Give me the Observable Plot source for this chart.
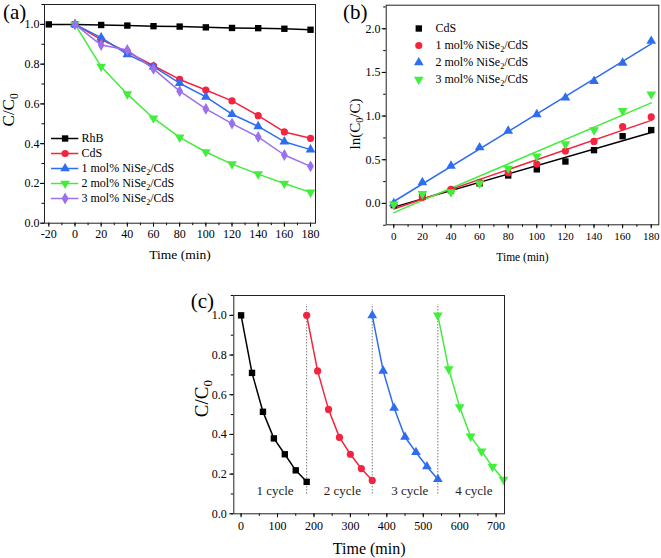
<!DOCTYPE html>
<html><head><meta charset="utf-8">
<script src="https://cdn.jsdelivr.net/npm/d3@7"></script>
<script src="https://cdn.jsdelivr.net/npm/@observablehq/plot@0.6"></script>
<style>
body{margin:0;background:#fff;}
#root{position:relative;width:661px;height:558px;overflow:hidden;font-family:"Liberation Serif","Times New Roman",serif;color:#000;}
.plabel{position:absolute;font-size:21px;line-height:normal;}
</style></head><body><div id="root"></div>
<script>
// ---------- data ----------
// (a) photodegradation C/C0
const timeRhB = [-20, 0, 20, 40, 60, 80, 100, 120, 140, 160, 180];
const rhbA   = [1.0, 1.0, 0.997, 0.994, 0.991, 0.989, 0.985, 0.982, 0.981, 0.978, 0.973];
const timeA  = [0, 20, 40, 60, 80, 100, 120, 140, 160, 180];
const cdsA   = [1.0, 0.923, 0.862, 0.792, 0.723, 0.670, 0.615, 0.541, 0.459, 0.427];
const mol1A  = [1.0, 0.933, 0.849, 0.787, 0.704, 0.635, 0.548, 0.487, 0.410, 0.370];
const mol2A  = [1.0, 0.788, 0.649, 0.528, 0.432, 0.358, 0.297, 0.247, 0.200, 0.155];
const mol3A  = [1.0, 0.896, 0.871, 0.776, 0.664, 0.575, 0.501, 0.434, 0.343, 0.286];
const labelsA = ["RhB", "CdS", "1 mol% NiSe₂/CdS", "2 mol% NiSe₂/CdS", "3 mol% NiSe₂/CdS"];

// (b) kinetics ln(C0/C)
const timeB  = [0, 20, 40, 60, 80, 100, 120, 140, 160, 180];
const cdsB   = [-0.02, 0.08, 0.15, 0.23, 0.32, 0.39, 0.48, 0.61, 0.77, 0.84];
const mol1B  = [-0.01, 0.07, 0.16, 0.24, 0.35, 0.45, 0.60, 0.71, 0.88, 0.99];
const mol2B  = [0.00, 0.24, 0.43, 0.64, 0.83, 1.02, 1.21, 1.40, 1.61, 1.86];
const mol3B  = [-0.01, 0.11, 0.13, 0.23, 0.40, 0.54, 0.68, 0.84, 1.06, 1.25];
const labelsB = ["CdS", "1 mol% NiSe₂/CdS", "2 mol% NiSe₂/CdS", "3 mol% NiSe₂/CdS"];

// (c) cycling
const timeC1 = [0, 30, 60, 90, 120, 150, 180];
const timeC2 = [180, 210, 240, 270, 300, 330, 360];
const timeC3 = [360, 390, 420, 450, 480, 510, 540];
const timeC4 = [540, 570, 600, 630, 660, 690, 720];
const cyc1 = [1.0, 0.71, 0.514, 0.38, 0.30, 0.219, 0.161];
const cyc2 = [1.0, 0.72, 0.526, 0.385, 0.30, 0.228, 0.168];
const cyc3 = [1.0, 0.72, 0.533, 0.387, 0.31, 0.238, 0.174];
const cyc4 = [1.0, 0.729, 0.538, 0.39, 0.315, 0.238, 0.172];
const cycleSeparators = [180, 360, 540];
const cycleLabels = ["1 cycle", "2 cycle", "3 cycle", "4 cycle"];
const cycleLabelX = [93, 278, 463, 639];
const cycleLabelY = [0.114, 0.114, 0.114, 0.114];

// tick labels
const ticksAx = [-20, 0, 20, 40, 60, 80, 100, 120, 140, 160, 180];
const ticksAy = [0, 0.2, 0.4, 0.6, 0.8, 1.0];
const ticksBx = [0, 20, 40, 60, 80, 100, 120, 140, 160, 180];
const ticksBy = [0, 0.5, 1.0, 1.5, 2.0];
const ticksCx = [0, 100, 200, 300, 400, 500, 600, 700];
const ticksCy = [0, 0.2, 0.4, 0.6, 0.8, 1.0];

// ---------- style ----------
const FONT = '"Liberation Serif","Times New Roman",serif';
const C = {black: "#000000", red: "#f2243f", blue: "#2e6cf0", green: "#42ee3c", purple: "#9a70ec"};
const triangleDown = {
  draw(ctx, size) {
    const s3 = Math.sqrt(3);
    const y = -Math.sqrt(size / (s3 * 3));
    ctx.moveTo(0, -2 * y);
    ctx.lineTo(-s3 * y, y);
    ctx.lineTo(s3 * y, y);
    ctx.closePath();
  }
};
const baseStyle = {fontFamily: FONT, fontSize: "12px", background: "transparent", color: "#000", overflow: "visible"};
const root = document.getElementById("root");
const SUB = {"₀": "0", "₂": "2"};
function subscripts(svg) {
  svg.querySelectorAll("text").forEach(t => {
    if (!/[₀₂]/.test(t.textContent)) return;
    const spans = [...t.querySelectorAll("tspan")];
    const targets = spans.length ? spans : [t];
    targets.forEach(el => {
      const s = el.textContent;
      if (!/[₀₂]/.test(s)) return;
      const fs = parseFloat(getComputedStyle(el).fontSize) || 12;
      el.textContent = "";
      s.split(/([₀₂])/).forEach(part => {
        if (!part) return;
        const ts = document.createElementNS("http://www.w3.org/2000/svg", "tspan");
        if (SUB[part]) {
          ts.textContent = SUB[part];
          ts.setAttribute("font-size", (fs * 0.68).toFixed(2));
          ts.setAttribute("baseline-shift", (-fs * 0.22).toFixed(2));
        } else ts.textContent = part;
        el.appendChild(ts);
      });
    });
  });
}
function place(el, left, top) {
  el.style.position = "absolute";
  el.style.left = left + "px";
  el.style.top = top + "px";
  root.appendChild(el);
  subscripts(el);
}
function rows(t, v, name) { return t.map((x, i) => ({t: x, v: v[i], name})); }
function minor(lo, hi, step) { const a = []; for (let k = Math.round(lo / step); k * step <= hi + 1e-9; k++) a.push(+(k * step).toFixed(6)); return a; }
const intFmt = d => String(d);
const f1 = d3.format(".1f");

// ---------- (a) ----------
const seriesA = [
  {t: timeRhB, v: rhbA, color: C.black, symbol: "square"},
  {t: timeA, v: cdsA, color: C.red, symbol: "circle"},
  {t: timeA, v: mol1A, color: C.blue, symbol: "triangle"},
  {t: timeA, v: mol2A, color: C.green, symbol: triangleDown},
  {t: timeA, v: mol3A, color: C.purple, symbol: "diamond"}
];
const plotA = Plot.plot({
  width: 330, height: 270,
  marginLeft: 44, marginRight: 15, marginTop: 4, marginBottom: 47.3,
  x: {domain: [-23.3, 183.8]},
  y: {domain: [0, 1.1]},
  style: baseStyle,
  marks: [
    ...seriesA.flatMap((s, i) => {
      const d = rows(s.t, s.v, labelsA[i]);
      return [
        Plot.line(d, {x: "t", y: "v", stroke: s.color, strokeWidth: 1.5}),
        Plot.dot(d, {x: "t", y: "v", fill: s.color, symbol: s.symbol, r: 3.6})
      ];
    }),
    Plot.axisX(ticksAx, {tickSize: 4, tickPadding: 2, tickFormat: intFmt, fontSize: 12, label: null}),
    Plot.axisX(minor(-20, 180, 10), {tickSize: 2.5, tickFormat: () => "", label: null}),
    Plot.axisY(ticksAy, {tickSize: 4, tickPadding: 1, tickFormat: f1, fontSize: 12, label: null}),
    Plot.axisY(minor(0, 1.1, 0.1), {tickSize: 2.5, tickFormat: () => "", label: null}),
    Plot.frame({stroke: "#222", strokeWidth: 1}),
    Plot.text(["Time (min)"], {frameAnchor: "bottom", dy: 31.3, lineAnchor: "middle", textAnchor: "middle", fontSize: 13.5}),
    Plot.text(["C/C₀"], {frameAnchor: "left", dx: -35.7, dy: -4, rotate: -90, lineAnchor: "middle", textAnchor: "middle", fontSize: 17})
  ]
});
place(plotA, 0, 0);

const legA = Plot.plot({
  width: 200, height: 80, margin: 0,
  x: {domain: [0, 200], range: [0, 200], axis: null},
  y: {type: "point", domain: labelsA, range: [8.7, 71.3], padding: 0, axis: null},
  style: baseStyle,
  marks: seriesA.flatMap((s, i) => [
    Plot.ruleY([labelsA[i]], {y: d => d, x1: 6, x2: 33.3, stroke: s.color, strokeWidth: 1.5}),
    Plot.dot([labelsA[i]], {x: 19.6, y: d => d, fill: s.color, symbol: s.symbol, r: 3.6}),
    Plot.text([labelsA[i]], {x: 36, y: d => d, text: d => d, textAnchor: "start", fontSize: 12})
  ])
});
place(legA, 45, 128);

// ---------- (b) ----------
const seriesB = [
  {v: cdsB, color: C.black, symbol: "square"},
  {v: mol1B, color: C.red, symbol: "circle"},
  {v: mol2B, color: C.blue, symbol: "triangle"},
  {v: mol3B, color: C.green, symbol: triangleDown}
];
const plotB = Plot.plot({
  width: 331, height: 270,
  marginLeft: 55.7, marginRight: 2.7, marginTop: 4.7, marginBottom: 45.7,
  x: {domain: [-5.3, 185.3]},
  y: {domain: [-0.245, 2.27]},
  style: baseStyle,
  marks: [
    ...seriesB.map((s, i) => Plot.linearRegressionY(rows(timeB, s.v, labelsB[i]), {x: "t", y: "v", stroke: s.color, strokeWidth: 1.5, ci: 0})),
    ...seriesB.map((s, i) => Plot.dot(rows(timeB, s.v, labelsB[i]), {x: "t", y: "v", fill: s.color, symbol: s.symbol, r: 3.6})),
    Plot.axisX(ticksBx, {tickSize: 4, tickPadding: 3.5, tickFormat: intFmt, fontSize: 11, label: null}),
    Plot.axisX(minor(0, 185, 10), {tickSize: 2.5, tickFormat: () => "", label: null}),
    Plot.axisY(ticksBy, {tickSize: 4, tickPadding: 1.7, tickFormat: f1, fontSize: 12, label: null}),
    Plot.axisY(minor(-0.25, 2.25, 0.25), {tickSize: 2.5, tickFormat: () => "", label: null}),
    Plot.frame({stroke: "#222", strokeWidth: 1}),
    Plot.text(["Time (min)"], {frameAnchor: "bottom", dy: 32.7, lineAnchor: "middle", textAnchor: "middle", fontSize: 11.5}),
    Plot.text(["ln(C₀/C)"], {frameAnchor: "left", dx: -30.7, dy: 9, rotate: -90, lineAnchor: "middle", textAnchor: "middle", fontSize: 15})
  ]
});
place(plotB, 330, 0);

const legB = Plot.plot({
  width: 200, height: 80, margin: 0,
  x: {domain: [0, 200], range: [0, 200], axis: null},
  y: {type: "point", domain: labelsB, range: [12, 65.5], padding: 0, axis: null},
  style: baseStyle,
  marks: seriesB.flatMap((s, i) => [
    Plot.dot([labelsB[i]], {x: 13.3, y: d => d, fill: s.color, symbol: s.symbol, r: 3.6}),
    Plot.text([labelsB[i]], {x: 30, y: d => d, text: d => d, textAnchor: "start", fontSize: 12})
  ])
});
place(legB, 405, 15);

// ---------- (c) ----------
const seriesC = [
  {t: timeC1, v: cyc1, color: C.black, symbol: "square"},
  {t: timeC2, v: cyc2, color: C.red, symbol: "circle"},
  {t: timeC3, v: cyc3, color: C.blue, symbol: "triangle"},
  {t: timeC4, v: cyc4, color: C.green, symbol: triangleDown}
];
const plotC = Plot.plot({
  width: 340, height: 278,
  marginLeft: 63.3, marginRight: 6, marginTop: 15, marginBottom: 44.7,
  x: {domain: [-20, 723]},
  y: {domain: [0, 1.1]},
  style: baseStyle,
  marks: [
    Plot.ruleX(cycleSeparators, {y1: 0.1, y2: 1.055, stroke: "#777", strokeDasharray: "1.5,1.5", strokeWidth: 1}),
    ...seriesC.flatMap((s, i) => {
      const d = rows(s.t, s.v, cycleLabels[i]);
      return [
        Plot.line(d, {x: "t", y: "v", stroke: s.color, strokeWidth: 1.5}),
        Plot.dot(d, {x: "t", y: "v", fill: s.color, symbol: s.symbol, r: 3.6})
      ];
    }),
    Plot.text(cycleLabels, {x: (d, i) => cycleLabelX[i], y: (d, i) => cycleLabelY[i], text: d => d, fontSize: 13, fill: "#222"}),
    Plot.axisX(ticksCx, {tickSize: 4, tickPadding: 3.4, tickFormat: intFmt, fontSize: 12, label: null}),
    Plot.axisX(minor(0, 720, 50), {tickSize: 2.5, tickFormat: () => "", label: null}),
    Plot.axisY(ticksCy, {tickSize: 4, tickPadding: 3, tickFormat: f1, fontSize: 12, label: null}),
    Plot.axisY(minor(0, 1.1, 0.1), {tickSize: 2.5, tickFormat: () => "", label: null}),
    Plot.frame({stroke: "#222", strokeWidth: 1}),
    Plot.text(["Time (min)"], {frameAnchor: "bottom", dy: 34.7, lineAnchor: "middle", textAnchor: "middle", fontSize: 16}),
    Plot.text(["C/C₀"], {frameAnchor: "left", dx: -31.6, dy: -6, rotate: -90, lineAnchor: "middle", textAnchor: "middle", fontSize: 19})
  ]
});
place(plotC, 170, 280);

// ---------- panel labels ----------
[["(a)", 3, 0], ["(b)", 343, 0], ["(c)", 190.7, 288.5]].forEach(([t, l, tp]) => {
  const d = document.createElement("div");
  d.className = "plabel";
  d.textContent = t;
  d.style.left = l + "px";
  d.style.top = tp + "px";
  root.appendChild(d);
});
</script></body></html>
